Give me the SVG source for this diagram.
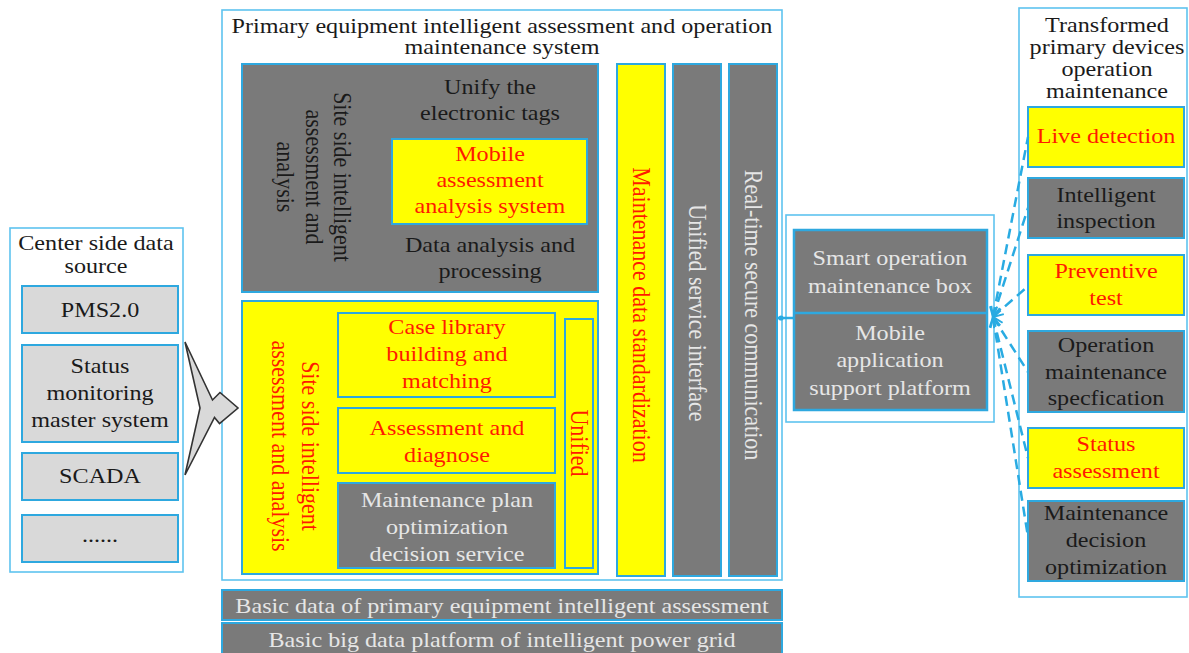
<svg xmlns="http://www.w3.org/2000/svg" width="1189" height="653" viewBox="0 0 1189 653">
<style>
.frame{fill:#ffffff;stroke:#5ec3ef;stroke-width:1.6}
.gray{fill:#7a7a7a;stroke:#2ea8df;stroke-width:2}
.yel{fill:#ffff00;stroke:#2ea8df;stroke-width:2}
.lg{fill:#d9d9d9;stroke:#2ea8df;stroke-width:2}
.t{font-family:"Liberation Serif","Times New Roman",serif;font-size:21px;text-anchor:middle}
.v{font-family:"Liberation Serif","Times New Roman",serif;font-size:22px;text-anchor:middle}
.dk{fill:#1a1a1a}
.rd{fill:#ff1a00}
.lt{fill:#e6e6e6}
.dash{fill:none;stroke:#29abe2;stroke-width:2.5;stroke-dasharray:10 6;marker-start:url(#ah)}
</style>
<defs>
<marker id="ah" viewBox="0 0 12 12" refX="11" refY="6" markerWidth="12" markerHeight="12" markerUnits="userSpaceOnUse" orient="auto-start-reverse">
<path d="M1,1 L11,6 L1,11" fill="none" stroke="#29abe2" stroke-width="2" stroke-dasharray="none"/>
</marker>
</defs>
<rect width="1189" height="653" fill="#ffffff"/>

<g id="center-source">
<rect class="frame" x="10" y="228" width="173" height="344"/>
<text class="t dk" transform="translate(96,250) scale(1.15,1)"><tspan x="0">Center side data</tspan><tspan x="0" dy="23">source</tspan></text>
<g id="pms">
<rect class="lg" x="22" y="286" width="156" height="47"/>
<text class="t dk" transform="translate(100,317) scale(1.15,1)">PMS2.0</text>
</g>
<g id="status-monitoring">
<rect class="lg" x="22" y="345" width="156" height="97"/>
<text class="t dk" transform="translate(100,373) scale(1.15,1)"><tspan x="0">Status</tspan><tspan x="0" dy="27">monitoring</tspan><tspan x="0" dy="27">master system</tspan></text>
</g>
<g id="scada">
<rect class="lg" x="22" y="453" width="156" height="47"/>
<text class="t dk" transform="translate(100,483) scale(1.15,1)">SCADA</text>
</g>
<g id="more">
<rect class="lg" x="22" y="515" width="156" height="47"/>
<text class="t dk" transform="translate(100,542) scale(1.15,1)">......</text>
</g>
</g>

<g id="main-system">
<rect class="frame" x="222" y="10" width="560" height="570"/>
<text class="t dk" transform="translate(502,33) scale(1.15,1)"><tspan x="0">Primary equipment intelligent assessment and operation</tspan><tspan x="0" dy="21">maintenance system</tspan></text>
</g>

<g id="site-side-top">
<rect class="gray" x="242" y="64" width="356" height="228"/>
<text class="v dk" transform="translate(314,177) rotate(90) scale(1,1.15)"><tspan x="0" y="-17.8">Site side intelligent</tspan><tspan x="0" y="7">assessment and</tspan><tspan x="0" y="31.8">analysis</tspan></text>
<text class="t dk" transform="translate(490,94) scale(1.15,1)"><tspan x="0">Unify the</tspan><tspan x="0" dy="26">electronic tags</tspan></text>
<text class="t dk" transform="translate(490,252) scale(1.15,1)"><tspan x="0">Data analysis and</tspan><tspan x="0" dy="26">processing</tspan></text>
</g>
<g id="mobile-assessment">
<rect class="yel" x="392" y="139" width="195" height="85"/>
<text class="t rd" transform="translate(490,161) scale(1.15,1)"><tspan x="0">Mobile</tspan><tspan x="0" dy="26">assessment</tspan><tspan x="0" dy="26">analysis system</tspan></text>
</g>

<g id="site-side-bottom">
<rect class="yel" x="242" y="301" width="356" height="273"/>
<text class="v rd" transform="translate(295,446) rotate(90) scale(1,1.15)"><tspan x="0" y="-6">Site side intelligent</tspan><tspan x="0" y="20">assessment and analysis</tspan></text>
</g>
<g id="case-library">
<rect class="yel" x="338" y="313" width="217" height="84"/>
<text class="t rd" transform="translate(447,334) scale(1.15,1)"><tspan x="0">Case library</tspan><tspan x="0" dy="27">building and</tspan><tspan x="0" dy="27">matching</tspan></text>
</g>
<g id="assessment-diagnose">
<rect class="yel" x="338" y="408" width="217" height="65"/>
<text class="t rd" transform="translate(447,435) scale(1.15,1)"><tspan x="0">Assessment and</tspan><tspan x="0" dy="27">diagnose</tspan></text>
</g>
<g id="maintenance-plan">
<rect class="gray" x="338" y="483" width="217" height="85"/>
<text class="t lt" transform="translate(447,507) scale(1.15,1)"><tspan x="0">Maintenance plan</tspan><tspan x="0" dy="27">optimization</tspan><tspan x="0" dy="27">decision service</tspan></text>
</g>
<g id="unified">
<rect class="yel" x="565" y="319" width="28" height="249"/>
<text class="v rd" transform="translate(579,443) rotate(90) scale(1,1.15)" y="7">Unified</text>
</g>

<g id="data-standardization">
<rect class="yel" x="617" y="64" width="48" height="512"/>
<text class="v rd" transform="translate(641,315) rotate(90) scale(1,1.15)" y="7">Maintenance data standardization</text>
</g>
<g id="service-interface">
<rect class="gray" x="673" y="64" width="48" height="512"/>
<text class="v lt" transform="translate(697,313) rotate(90) scale(1,1.15)" y="7">Unified service interface</text>
</g>
<g id="secure-communication">
<rect class="gray" x="729" y="64" width="48" height="512"/>
<text class="v lt" transform="translate(753,315) rotate(90) scale(1,1.15)" y="7">Real-time secure communication</text>
</g>

<g id="basic-data">
<rect class="gray" x="222" y="590" width="560" height="30"/>
<text class="t lt" transform="translate(502,613) scale(1.15,1)">Basic data of primary equipment intelligent assessment</text>
</g>
<g id="big-data-platform">
<rect class="gray" x="222" y="623" width="560" height="34"/>
<text class="t lt" transform="translate(502,647) scale(1.15,1)">Basic big data platform of intelligent power grid</text>
</g>

<g id="smart-box">
<rect class="frame" x="786" y="215" width="208" height="207"/>
<rect class="gray" x="794" y="230" width="193" height="180" style="stroke-width:2.5"/>
<line x1="794" y1="313" x2="987" y2="313" stroke="#2ea8df" stroke-width="2.5"/>
<text class="t lt" transform="translate(890,265) scale(1.15,1)"><tspan x="0">Smart operation</tspan><tspan x="0" dy="28">maintenance box</tspan></text>
<text class="t lt" transform="translate(890,340) scale(1.15,1)"><tspan x="0">Mobile</tspan><tspan x="0" dy="27">application</tspan><tspan x="0" dy="28">support platform</tspan></text>
</g>

<g id="transformed-devices">
<rect class="frame" x="1019" y="8" width="168" height="589"/>
<text class="t dk" transform="translate(1107,32) scale(1.15,1)"><tspan x="0">Transformed</tspan><tspan x="0" dy="22">primary devices</tspan><tspan x="0" dy="22">operation</tspan><tspan x="0" dy="22">maintenance</tspan></text>
</g>
<g id="live-detection">
<rect class="yel" x="1028" y="107" width="156" height="60"/>
<text class="t rd" transform="translate(1106,143) scale(1.15,1)">Live detection</text>
</g>
<g id="intelligent-inspection">
<rect class="gray" x="1028" y="178" width="156" height="60"/>
<text class="t dk" transform="translate(1106,202) scale(1.15,1)"><tspan x="0">Intelligent</tspan><tspan x="0" dy="26">inspection</tspan></text>
</g>
<g id="preventive-test">
<rect class="yel" x="1028" y="255" width="156" height="60"/>
<text class="t rd" transform="translate(1106,278) scale(1.15,1)"><tspan x="0">Preventive</tspan><tspan x="0" dy="27">test</tspan></text>
</g>
<g id="operation-spec">
<rect class="gray" x="1028" y="331" width="156" height="81"/>
<text class="t dk" transform="translate(1106,352) scale(1.15,1)"><tspan x="0">Operation</tspan><tspan x="0" dy="27">maintenance</tspan><tspan x="0" dy="26">specfication</tspan></text>
</g>
<g id="status-assessment">
<rect class="yel" x="1028" y="428" width="156" height="60"/>
<text class="t rd" transform="translate(1106,451) scale(1.15,1)"><tspan x="0">Status</tspan><tspan x="0" dy="27">assessment</tspan></text>
</g>
<g id="maintenance-decision">
<rect class="gray" x="1028" y="501" width="156" height="80"/>
<text class="t dk" transform="translate(1106,520) scale(1.15,1)"><tspan x="0">Maintenance</tspan><tspan x="0" dy="27">decision</tspan><tspan x="0" dy="27">optimization</tspan></text>
</g>

<g id="connectors">
<path d="M185,342 L212.5,400 L220,392.5 L238,408 L219.5,423.5 L214.5,417.5 L185,475 L200,408 Z" fill="#d9d9d9" stroke="#333333" stroke-width="1.6" stroke-linejoin="miter"/>
<line x1="777" y1="318" x2="794" y2="318" stroke="#29abe2" stroke-width="2.5"/>
<circle cx="781" cy="318" r="2.6" fill="#29abe2"/>
<line class="dash" x1="993" y1="317" x2="1028" y2="137"/>
<line class="dash" x1="993" y1="317" x2="1028" y2="208"/>
<line class="dash" x1="993" y1="317" x2="1027" y2="287"/>
<line class="dash" x1="993" y1="317" x2="1028" y2="372"/>
<line class="dash" x1="993" y1="317" x2="1028" y2="458"/>
<line class="dash" x1="993" y1="317" x2="1028" y2="537"/>
</g>
</svg>
